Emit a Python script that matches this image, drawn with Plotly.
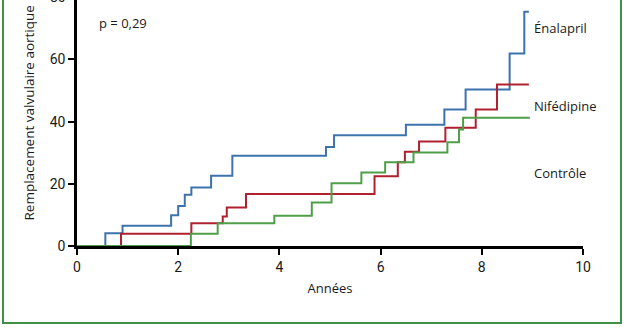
import plotly.graph_objects as go

# Data
enalapril_t = [0, 0.56, 0.90, 1.86, 2.00, 2.13, 2.26, 2.65, 3.07, 4.92, 5.08, 6.50, 7.26, 7.68, 8.55, 8.84, 8.93]
enalapril_v = [0, 4.1, 6.5, 9.9, 12.9, 16.5, 18.8, 22.6, 29.0, 31.8, 35.6, 39.0, 43.9, 50.3, 61.9, 75.3, 75.3]

nifedipine_t = [0, 0.87, 2.26, 2.88, 2.96, 3.34, 5.88, 6.34, 6.48, 6.76, 7.28, 7.88, 8.30, 8.93]
nifedipine_v = [0, 3.9, 7.3, 9.5, 12.4, 16.7, 22.4, 26.9, 30.3, 33.6, 38.0, 43.9, 51.9, 51.9]

controle_t = [0, 2.25, 2.78, 3.90, 4.64, 5.03, 5.62, 6.09, 6.65, 7.32, 7.55, 7.63, 8.95]
controle_v = [0, 3.9, 7.3, 9.7, 14.0, 20.2, 23.6, 26.9, 30.1, 33.4, 37.5, 41.2, 41.2]

x_ticks = [0, 2, 4, 6, 8, 10]
y_ticks = [0, 20, 40, 60, 80]

TICKFONT = "Roboto"
TEXTFONT = "Open Sans"
BLUE = "#3d73ad"
RED = "#b0202e"
GREEN = "#4f9f48"
BORDER = "#3f8f45"
INK = "#1a1a1a"

fig = go.Figure()
for t, v, c in [(enalapril_t, enalapril_v, BLUE),
                (nifedipine_t, nifedipine_v, RED),
                (controle_t, controle_v, GREEN)]:
    fig.add_trace(go.Scatter(x=t, y=v, mode="lines", line=dict(color=c, width=2, shape="hv"),
                             showlegend=False, hoverinfo="skip"))

W, H = 628, 336
L, R, T, B = 77, 45, 0, 90
pw, ph = W - L - R, H - T - B

def px_x(p):
    return (p - L) / pw

def px_y(p):
    return (H - B - p) / ph

fig.update_layout(
    width=W, height=H,
    margin=dict(l=L, r=R, t=T, b=B, pad=0),
    paper_bgcolor="white", plot_bgcolor="white",
    font=dict(family=TEXTFONT, size=13, color=INK),
    xaxis=dict(range=[0, 10], tickvals=x_ticks, showgrid=False, zeroline=False,
               showline=True, linecolor="black", linewidth=2.5,
               ticks="outside", ticklen=6, tickwidth=2, tickcolor="black",
               tickfont=dict(family=TICKFONT, size=14, color=INK),
               title=dict(text="Années", font=dict(family=TEXTFONT, size=13, color=INK), standoff=11)),
    yaxis=dict(range=[0, 79.1], tickvals=y_ticks, showgrid=False, zeroline=False,
               showline=True, linecolor="black", linewidth=2.5,
               ticks="outside", ticklen=6, tickwidth=2, tickcolor="black",
               tickfont=dict(family=TICKFONT, size=14, color=INK)),
)

annots = [
    dict(text="p = 0,29", x=0.40, y=71.7, xanchor="left", yanchor="middle"),
    dict(text="Énalapril", x=8.99, y=70.0, xanchor="left", yanchor="middle"),
    dict(text="Nifédipine", x=8.99, y=45.0, xanchor="left", yanchor="middle"),
    dict(text="Contrôle", x=8.99, y=23.6, xanchor="left", yanchor="middle"),
]
for a in annots:
    fig.add_annotation(xref="x", yref="y", showarrow=False,
                       font=dict(family=TEXTFONT, size=13, color=INK), **a)

# partially visible 80 tick label at the cropped top (as in the reference)
fig.add_annotation(xref="paper", yref="paper", x=0, y=px_y(-3), text="80", showarrow=False,
                   xanchor="right", yanchor="middle", xshift=-9,
                   font=dict(family=TICKFONT, size=14, color=INK))

# y-axis title (visible part)
fig.add_annotation(xref="paper", yref="paper", x=px_x(28), y=px_y(223),
                   text="Remplacement valvulaire aortique", textangle=-90,
                   showarrow=False, xanchor="center", yanchor="bottom",
                   font=dict(family=TEXTFONT, size=13.5, color=INK))

# green frame
fig.add_shape(type="rect", xref="paper", yref="paper",
              x0=px_x(3), x1=px_x(621), y0=px_y(323), y1=px_y(-20),
              line=dict(color=BORDER, width=2), layer="below")

fig.write_html("out.html")
